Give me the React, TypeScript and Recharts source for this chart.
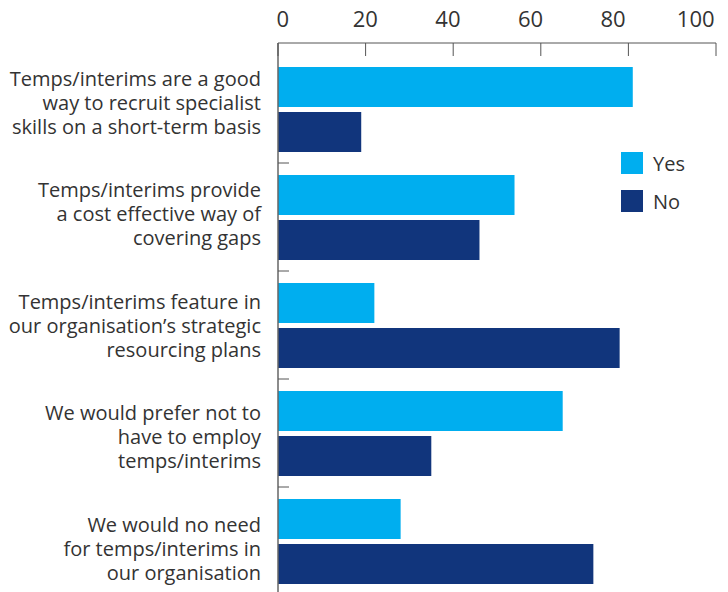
import React from "react";
import { BarChart, Bar, XAxis, YAxis, Legend } from "recharts";

const categories = [
  "Temps/interims are a good\nway to recruit specialist\nskills on a short-term basis",
  "Temps/interims provide\na cost effective way of\ncovering gaps",
  "Temps/interims feature in\nour organisation’s strategic\nresourcing plans",
  "We would prefer not to\nhave to employ\ntemps/interims",
  "We would no need\nfor temps/interims in\nour organisation",
];
const yesValues = [81, 54, 22, 65, 28];
const noValues = [19, 46, 78, 35, 72];
const xTicks = [0, 20, 40, 60, 80, 100];
const seriesOrder = ["Yes", "No"];

const data = categories.map((name, i) => ({ name, yes: yesValues[i], no: noValues[i] }));

const FONT = "'Open Sans', sans-serif";
const TEXT = "#333333";
const AXIS = "#555555";

const XTick = (props: any) => {
  const { x, y, payload } = props;
  const axisY = y + 16;
  const shift = 4.7 - payload.value * 0.25;
  return (
    <g>
      <line x1={x} x2={x} y1={axisY} y2={axisY + 13} stroke={AXIS} strokeWidth={1} />
      <text x={x + shift} y={y} textAnchor="middle" fill={TEXT} fontSize={22} fontFamily={FONT}>
        {payload.value}
      </text>
    </g>
  );
};

const YTick = (props: any) => {
  const { x, y, payload, index } = props;
  const lines = String(payload.value).split("\n");
  const half = payload.offset ?? 54;
  const axisX = x + 17;
  const mid = y + 0.5 + index * 3.6;
  return (
    <g>
      {index < categories.length - 1 && (
        <line x1={axisX} x2={axisX + 11} y1={y + half} y2={y + half} stroke={AXIS} strokeWidth={1} />
      )}
      <text textAnchor="end" fill={TEXT} fontSize={20} fontFamily={FONT}>
        {lines.map((l, i) => (
          <tspan key={i} x={x} y={mid + (i - (lines.length - 1) / 2) * 24}>
            {l}
          </tspan>
        ))}
      </text>
    </g>
  );
};

const LegendContent = (props: any) => {
  const payload = [...(props.payload ?? [])].sort(
    (a: any, b: any) => seriesOrder.indexOf(a.value) - seriesOrder.indexOf(b.value)
  );
  return (
    <div style={{ fontFamily: FONT }}>
      {payload.map((p: any) => (
        <div key={p.value} style={{ display: "flex", alignItems: "center", height: 22, marginBottom: 16 }}>
          <div style={{ width: 22, height: 22, background: p.color }} />
          <span style={{ marginLeft: 10, fontSize: 20, color: TEXT }}>{p.value}</span>
        </div>
      ))}
    </div>
  );
};

export default function App() {
  return (
    <div style={{ position: "absolute", left: 0, top: 0, width: 728, height: 592, overflow: "hidden", background: "#fff" }}>
      <BarChart
        width={728}
        height={595}
        data={data}
        layout="vertical"
        margin={{ top: 0, right: 12, bottom: 0, left: 0 }}
        barCategoryGap={12}
        barGap={5}
      >
        <XAxis
          type="number"
          orientation="top"
          domain={[0, 100]}
          ticks={xTicks}
          height={43}
          tickSize={0}
          tickMargin={16}
          tickLine={false}
          axisLine={{ stroke: AXIS, strokeWidth: 1 }}
          tick={<XTick />}
          interval={0}
        />
        <YAxis
          type="category"
          dataKey="name"
          width={278}
          padding={{ top: 12, bottom: 0 }}
          tickSize={0}
          tickMargin={17}
          tickLine={false}
          axisLine={{ stroke: "#666666", strokeWidth: 1.5 }}
          tick={<YTick />}
          interval={0}
        />
        <Legend
          content={<LegendContent />}
          layout="horizontal"
          verticalAlign="middle"
          align="center"
          wrapperStyle={{ position: "absolute", left: 621, top: 152, width: 100 }}
        />
        <Bar dataKey="yes" name="Yes" fill="#00AEEF" isAnimationActive={false} />
        <Bar dataKey="no" name="No" fill="#11357C" isAnimationActive={false} />
      </BarChart>
    </div>
  );
}
